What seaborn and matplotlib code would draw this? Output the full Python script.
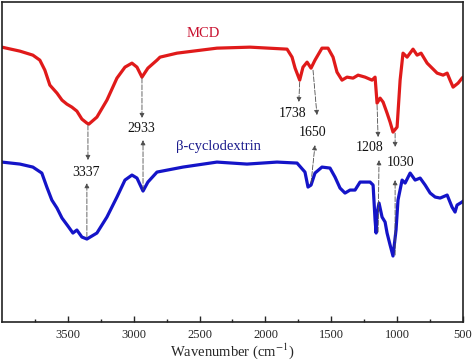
import pandas as pd
import seaborn as sns
import matplotlib.pyplot as plt

# wavenumber (cm-1) and transmittance (a.u.)
mcd_wn = [4000, 3863, 3765, 3712, 3674, 3636, 3582, 3544, 3507, 3469, 3431, 3393,
          3355, 3340, 3279, 3203, 3127, 3066, 3013, 2975, 2937, 2892, 2823, 2800,
          2671, 2368, 2117, 1836, 1798, 1775, 1740, 1715, 1684, 1654, 1624, 1571,
          1525, 1487, 1457, 1419, 1381, 1335, 1297, 1244, 1191, 1168, 1153, 1130,
          1107, 1077, 1054, 1032, 1001, 978, 956, 925, 880, 849, 819, 773, 735,
          697, 652, 621, 599, 576, 538, 508, 500]
mcd_t = [275, 271, 267, 262, 252, 237, 229, 222, 218, 215, 211, 203,
         199, 198, 205, 222, 244, 255, 259, 255, 245, 254, 262, 265,
         269, 274, 275, 273, 265, 254, 242, 255, 260, 254, 262, 274,
         274, 265, 250, 242, 245, 244, 247, 245, 242, 245, 219, 224,
         220, 209, 200, 190, 195, 242, 269, 265, 273, 267, 269, 259, 254,
         249, 247, 249, 242, 235, 239, 244, 245]

bcd_wn = [4000, 3863, 3765, 3697, 3659, 3621, 3582, 3544, 3499, 3461, 3431, 3393,
          3355, 3279, 3203, 3127, 3066, 3013, 2975, 2929, 2892, 2823, 2626, 2368,
          2140, 1912, 1760, 1700, 1677, 1654, 1624, 1571, 1510, 1472, 1434, 1396,
          1358, 1320, 1282, 1206, 1183, 1168, 1160, 1153, 1138, 1115, 1092, 1077,
          1054, 1032, 1009, 994, 963, 940, 902, 864, 826, 788, 750, 712, 674,
          621, 584, 561, 546, 508, 500]
bcd_t = [160, 158, 155, 149, 135, 122, 114, 104, 96, 89, 92, 85,
         83, 89, 105, 125, 142, 147, 144, 131, 140, 150, 155, 160,
         158, 160, 159, 150, 135, 137, 149, 155, 154, 145, 134, 129,
         132, 132, 140, 140, 137, 102, 89, 109, 119, 105, 100, 89,
         77, 66, 92, 122, 142, 139, 149, 142, 144, 137, 129, 125, 124,
         127, 115, 110, 117, 120, 121]

df = pd.concat([
    pd.DataFrame({"wn": mcd_wn, "T": mcd_t, "sample": "MCD"}),
    pd.DataFrame({"wn": bcd_wn, "T": bcd_t, "sample": "β-cyclodextrin"}),
])

sns.set_style("ticks")
plt.rcParams['font.family'] = ['Liberation Serif', 'DejaVu Serif']
plt.rcParams['mathtext.fontset'] = 'stix'

fig = plt.figure(figsize=(4.74, 3.63), dpi=100)
ax = fig.add_axes([0.004, 0.113, 0.973, 0.881])

sns.lineplot(data=df, x="wn", y="T", hue="sample", estimator=None,
             palette={"MCD": "#e01a1a", "β-cyclodextrin": "#1414c8"},
             linewidth=2.3, legend=False, ax=ax)

ax.set_xlim(4000, 500)
ax.set_ylim(0, 320)
ax.set_xticks([3500, 3000, 2500, 2000, 1500, 1000, 500])
ax.set_xticks(range(750, 4000, 500), minor=True)
ax.set_yticks([])
ax.tick_params(axis='x', direction='in', length=4, width=1, labelsize=9, pad=5)
ax.tick_params(axis='x', which='minor', direction='in', length=2.5, width=1)
for s in ax.spines.values():
    s.set_visible(True)
    s.set_linewidth(1.2)
    s.set_color('#222222')
ax.set_xlabel("Wavenumber (cm$^{-1}$)", fontsize=10.5, labelpad=0)
ax.set_ylabel("")

ax.text(2474, 289, "MCD", color="#c8102e", fontsize=10.5, ha='center', va='center')
ax.text(2360, 176, "β-cyclodextrin", color="#1a1a8c", fontsize=10.5, ha='center', va='center')

# peak labels: (text, label x, label y)
peaks = [("3337", 3360, 150), ("2933", 2945, 194), ("1738", 1798, 209),
         ("1650", 1639, 190), ("1208", 1206, 175), ("1030", 971, 160)]
for txt, px, py in peaks:
    ax.text(px, py, txt, fontsize=10, ha='center', va='center', color='#111111')

# arrows: (start x, start y, tip x, tip y)
arrows = [(3347, 197, 3347, 162), (3355, 85, 3355, 139),
          (2937, 244, 2937, 204), (2929, 132, 2929, 182),
          (1740, 240, 1747, 220),
          (1639, 252, 1609, 207), (1654, 139, 1624, 177),
          (1153, 217, 1145, 185), (1145, 90, 1138, 162),
          (1016, 189, 1016, 175), (1016, 67, 1016, 142)]
for x0, y0, x1, y1 in arrows:
    ax.annotate("", xy=(x1, y1), xytext=(x0, y0),
                arrowprops=dict(arrowstyle='-|>', color='0.3', lw=0.6,
                                linestyle=(0, (6, 2)), mutation_scale=7,
                                shrinkA=0, shrinkB=0))

fig.savefig("out.png", dpi=100, facecolor='white')
